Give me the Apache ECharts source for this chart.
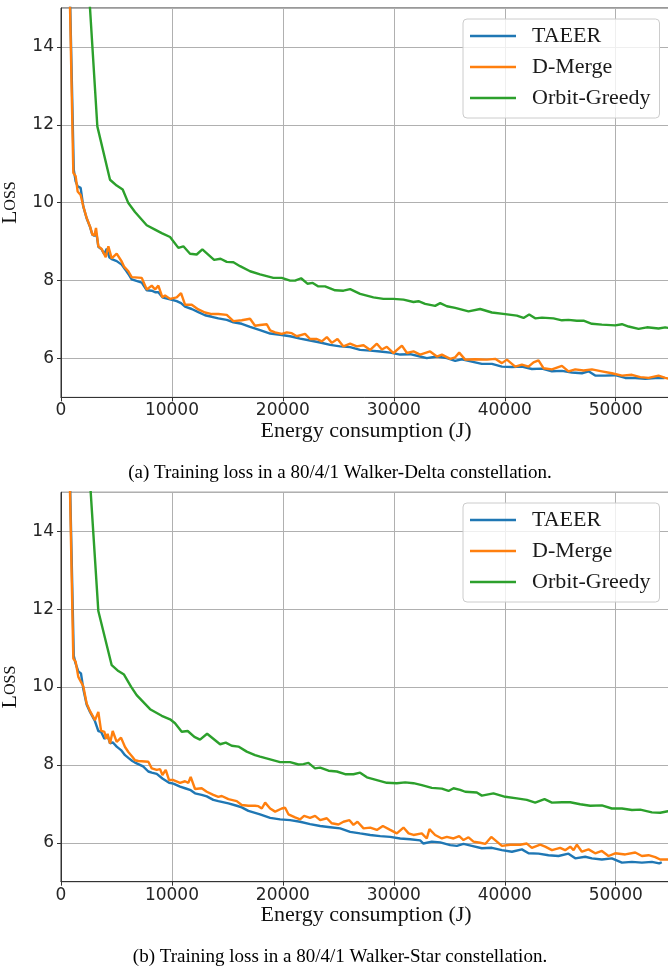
<!DOCTYPE html>
<html>
<head>
<meta charset="utf-8">
<script src="https://cdn.jsdelivr.net/npm/echarts@6/dist/echarts.min.js"></script>
<style>
html,body{margin:0;padding:0;background:#fff;}
#chart{width:668px;height:966px;}
</style>
</head>
<body>
<div id="chart"></div>
<script>
// ---------- data ----------
const seriesNames = ['TAEER', 'D-Merge', 'Orbit-Greedy'];
const xTickValues = [0, 10000, 20000, 30000, 40000, 50000];
const yTickValues = [6, 8, 10, 12, 14];
const xAxisTitle = 'Energy consumption (J)';
const yAxisTitle = 'Loss';
const captions = [
  '(a) Training loss in a 80/4/1 Walker-Delta constellation.',
  '(b) Training loss in a 80/4/1 Walker-Star constellation.'
];

// (a) Walker-Delta
const deltaTAEER = [[620,17.8],[1150,10.85],[1320,10.55],[1500,10.42],[1770,10.38],[2010,9.9],[2310,9.6],[2615,9.38],[2825,9.18],[3010,9.15],[3200,9.2],[3365,8.87],[3665,8.8],[3900,8.68],[4120,8.82],[4350,8.6],[4570,8.55],[5020,8.5],[5470,8.41],[5800,8.28],[6070,8.17],[6370,8.03],[6800,7.99],[7280,7.95],[7730,7.75],[8180,7.74],[8480,7.70],[8775,7.70],[9140,7.57],[9380,7.55],[9830,7.52],[10430,7.47],[10820,7.42],[11180,7.33],[11785,7.27],[12380,7.19],[12980,7.11],[13590,7.07],[14180,7.03],[14940,6.99],[15540,6.93],[16290,6.89],[17040,6.81],[17940,6.73],[18850,6.64],[19750,6.61],[20650,6.57],[21550,6.51],[22450,6.46],[23360,6.41],[24260,6.35],[25160,6.31],[26060,6.29],[26960,6.22],[27870,6.20],[28770,6.18],[29670,6.15],[30570,6.10],[31470,6.11],[32370,6.05],[32970,6.01],[33880,6.05],[34780,6.01],[35530,5.94],[36130,5.98],[37030,5.92],[37930,5.86],[38840,5.86],[39740,5.79],[40640,5.78],[41540,5.79],[42440,5.73],[43350,5.74],[44250,5.67],[45150,5.68],[46050,5.64],[46950,5.62],[47550,5.67],[48150,5.56],[49050,5.56],[49950,5.57],[50860,5.50],[51760,5.50],[52660,5.48],[53560,5.50],[54400,5.50]];
const deltaDMerge = [[620,17.8],[1110,10.77],[1320,10.68],[1500,10.29],[1770,10.2],[2010,9.91],[2310,9.61],[2615,9.39],[2825,9.18],[3010,9.16],[3155,9.35],[3365,8.88],[3665,8.81],[4030,8.60],[4270,8.88],[4570,8.57],[5020,8.69],[5470,8.49],[5680,8.36],[6070,8.24],[6370,8.09],[7280,8.07],[7730,7.77],[8180,7.87],[8480,7.77],[8775,7.87],[9140,7.57],[9380,7.62],[9830,7.53],[10430,7.57],[10820,7.68],[11180,7.38],[11785,7.38],[12380,7.26],[12980,7.18],[13590,7.14],[14180,7.14],[14940,7.12],[15540,6.96],[16290,6.98],[17040,7.02],[17490,6.84],[17940,6.86],[18550,6.88],[18850,6.72],[19300,6.67],[19900,6.63],[20350,6.67],[20800,6.65],[21250,6.57],[22000,6.63],[22450,6.50],[23060,6.50],[23510,6.44],[23960,6.55],[24410,6.40],[24920,6.50],[25460,6.31],[26060,6.38],[26660,6.31],[27270,6.34],[27870,6.22],[28470,6.38],[28920,6.23],[29370,6.30],[29970,6.14],[30730,6.33],[31180,6.14],[31770,6.18],[32370,6.10],[33270,6.18],[33880,6.05],[34330,6.10],[35080,5.99],[35530,6.03],[35890,6.15],[36430,5.97],[37330,5.98],[38390,5.97],[39130,5.99],[39740,5.88],[40190,5.97],[40940,5.79],[41540,5.84],[42140,5.79],[42590,5.90],[43040,5.95],[43490,5.75],[44250,5.72],[45150,5.81],[45740,5.67],[46350,5.72],[47100,5.69],[47850,5.72],[48750,5.67],[49650,5.62],[50560,5.56],[51460,5.58],[52210,5.52],[52960,5.50],[53860,5.56],[54460,5.50],[55000,5.47]];
const deltaOrbitGreedy = [[2200,16.9],[3275,11.96],[4418,10.59],[5020,10.44],[5560,10.34],[6070,9.99],[6670,9.76],[7725,9.42],[8475,9.31],[9075,9.22],[9830,9.12],[10580,8.84],[11030,8.88],[11630,8.69],[12230,8.67],[12740,8.80],[13800,8.53],[14380,8.56],[14940,8.48],[15540,8.47],[16140,8.37],[17040,8.24],[17940,8.16],[19140,8.07],[19900,8.07],[20650,8.0],[21100,8.0],[21640,8.06],[22210,7.92],[22690,7.94],[23200,7.85],[23800,7.85],[24710,7.75],[25460,7.74],[26060,7.78],[26960,7.66],[28160,7.57],[29060,7.53],[29960,7.53],[30870,7.51],[31770,7.45],[32220,7.47],[32820,7.40],[33720,7.35],[34180,7.42],[34780,7.34],[35530,7.30],[36730,7.21],[37780,7.27],[38840,7.18],[40040,7.14],[41090,7.10],[41690,7.04],[42200,7.13],[42740,7.03],[43350,7.05],[44390,7.03],[45150,6.98],[45740,6.99],[46500,6.97],[47100,6.97],[47850,6.89],[48750,6.87],[49950,6.85],[50560,6.88],[51160,6.82],[52060,6.76],[52810,6.80],[53860,6.77],[54460,6.80],[55000,6.77]];

// (b) Walker-Star
const starTAEER = [[620,17.8],[1150,10.8],[1320,10.6],[1560,10.4],[1800,10.35],[2010,9.95],[2310,9.55],[2615,9.36],[3065,9.12],[3365,8.87],[3610,8.85],[3910,8.67],[4200,8.75],[4420,8.55],[4660,8.58],[5020,8.47],[5410,8.38],[5770,8.25],[6070,8.18],[6430,8.10],[6670,8.06],[6970,8.02],[7400,7.96],[7870,7.83],[8180,7.80],[8630,7.77],[9140,7.65],[9740,7.54],[10130,7.52],[10730,7.44],[11180,7.40],[11690,7.35],[12080,7.27],[12680,7.23],[13140,7.19],[13730,7.10],[14180,7.07],[15090,7.01],[15840,6.95],[16290,6.91],[16890,6.82],[17940,6.73],[18850,6.64],[19750,6.60],[20650,6.58],[21550,6.54],[22450,6.48],[23360,6.43],[24260,6.40],[25160,6.37],[26060,6.28],[26960,6.24],[27870,6.20],[28770,6.17],[29670,6.15],[30570,6.11],[31470,6.09],[32370,6.06],[32670,5.98],[33420,6.03],[34180,6.01],[35080,5.94],[35680,5.92],[36280,5.97],[37030,5.92],[37930,5.86],[38840,5.87],[39740,5.81],[40640,5.77],[41540,5.83],[42140,5.73],[43040,5.72],[43940,5.68],[44840,5.66],[45740,5.72],[46350,5.60],[47250,5.64],[47850,5.60],[48750,5.57],[49650,5.60],[50560,5.49],[51460,5.51],[52360,5.49],[53260,5.51],[53920,5.47],[54150,5.50]];
const starDMerge = [[620,17.8],[1110,10.73],[1320,10.65],[1560,10.26],[1800,10.13],[2010,10.02],[2310,9.58],[2615,9.38],[3065,9.15],[3365,9.36],[3610,8.88],[3910,8.85],[4060,8.67],[4200,8.80],[4420,8.55],[4660,8.87],[5020,8.59],[5410,8.70],[5770,8.46],[6070,8.33],[6430,8.21],[6670,8.12],[6970,8.10],[7870,8.08],[8180,7.91],[8630,7.87],[8930,7.89],[9140,7.74],[9440,7.87],[9740,7.61],[10130,7.61],[10730,7.54],[11180,7.58],[11480,7.54],[11690,7.69],[12080,7.38],[12680,7.40],[13140,7.31],[13730,7.23],[14180,7.18],[14490,7.20],[15090,7.12],[15840,7.07],[16290,6.97],[16890,6.95],[17490,6.95],[17790,6.94],[18100,6.88],[18400,7.03],[18850,6.88],[19300,6.80],[19900,6.88],[20200,6.90],[20500,6.73],[21100,6.65],[21550,6.60],[21910,6.69],[22450,6.64],[22900,6.69],[23360,6.58],[23960,6.63],[24410,6.50],[25010,6.47],[25460,6.54],[26000,6.58],[26360,6.46],[26720,6.54],[27270,6.37],[27870,6.39],[28470,6.33],[29010,6.43],[29670,6.33],[30270,6.24],[30870,6.39],[31330,6.24],[31770,6.20],[32520,6.24],[32970,6.11],[33210,6.35],[33720,6.20],[34330,6.11],[34780,6.15],[35380,6.11],[35890,6.17],[36280,6.07],[36730,6.14],[37180,6.03],[37780,6.00],[38240,5.97],[38780,6.15],[39290,6.03],[39740,5.92],[40490,5.95],[41390,5.95],[41990,5.98],[42440,5.87],[43190,5.95],[43640,5.90],[44250,5.81],[44990,5.87],[45440,5.81],[45900,5.90],[46200,5.81],[46500,5.95],[46950,5.77],[47550,5.83],[48150,5.73],[48750,5.79],[49350,5.66],[49950,5.73],[50860,5.70],[51760,5.75],[52360,5.66],[52960,5.68],[53560,5.63],[54010,5.57],[54700,5.57],[55000,5.56]];
const starOrbitGreedy = [[2250,16.9],[3365,11.95],[4570,10.56],[5170,10.41],[5680,10.32],[6310,10.01],[6820,9.79],[8030,9.43],[9080,9.26],[9830,9.17],[10280,9.07],[10880,8.85],[11420,8.87],[12020,8.72],[12530,8.65],[13170,8.80],[14340,8.53],[14850,8.57],[15390,8.49],[15990,8.47],[16740,8.34],[17490,8.25],[17940,8.21],[18850,8.14],[19750,8.07],[20650,8.07],[21400,8.01],[21850,8.02],[22300,8.05],[22900,7.91],[23360,7.93],[24110,7.85],[24860,7.83],[25610,7.76],[26360,7.76],[26960,7.80],[27570,7.68],[28470,7.61],[29370,7.54],[30270,7.53],[31020,7.55],[31770,7.53],[32520,7.48],[33420,7.41],[34330,7.39],[34930,7.33],[35380,7.40],[35980,7.36],[36430,7.31],[37480,7.29],[37930,7.21],[38980,7.27],[40040,7.18],[41090,7.14],[41990,7.10],[42740,7.03],[43580,7.12],[44250,7.03],[45150,7.04],[45900,7.04],[46800,6.99],[47700,6.95],[48750,6.96],[49650,6.88],[50560,6.88],[51460,6.84],[52210,6.85],[53260,6.78],[54010,6.77],[54700,6.81],[55000,6.80]];

// ---------- styling ----------
const colors = ['#1f77b4', '#ff7f0e', '#2ca02c'];
const serif = 'Liberation Serif';
const sans = 'DejaVu Sans';
const panels = [
  { top: 8, data: [deltaTAEER, deltaDMerge, deltaOrbitGreedy], legendTop: 19, captionY: 473 },
  { top: 492.3, data: [starTAEER, starDMerge, starOrbitGreedy], legendTop: 503, captionY: 957 }
];
const gridLeft = 61, gridWidth = 610.2, gridHeight = 389.4;

const option = {
  backgroundColor: '#ffffff',
  animation: false,
  color: colors,
  grid: panels.map(p => ({
    left: gridLeft, top: p.top, width: gridWidth, height: gridHeight,
    outerBoundsMode: 'none', containLabel: false,
    show: true, borderColor: '#333', borderWidth: 1, backgroundColor: 'transparent'
  })),
  xAxis: panels.map((p, i) => ({
    type: 'value', gridIndex: i, min: 0, max: 55000, interval: 10000,
    name: xAxisTitle, nameLocation: 'middle', nameGap: 22,
    nameTextStyle: { fontFamily: serif, fontSize: 22, color: '#111' },
    axisLine: { show: true, lineStyle: { color: '#333', width: 1 } },
    axisTick: { show: true, inside: false, length: 4, lineStyle: { color: '#333' } },
    axisLabel: { fontFamily: sans, fontSize: 17, color: '#262626', margin: 5, showMaxLabel: false,
      formatter: v => (xTickValues.indexOf(v) >= 0 ? String(v) : '') },
    splitLine: { show: true, lineStyle: { color: '#b0b0b0', width: 1 } }
  })),
  yAxis: panels.map((p, i) => ({
    type: 'value', gridIndex: i, min: 5, max: 15, splitNumber: 5,
    name: '{a|L}{b|OSS}', nameLocation: 'middle', nameGap: 31,
    nameTextStyle: { fontFamily: serif, color: '#111',
      rich: { a: { fontFamily: serif, fontSize: 22, color: '#111' }, b: { fontFamily: serif, fontSize: 16, color: '#111' } } },
    axisLine: { show: true, lineStyle: { color: '#333', width: 1 } },
    axisTick: { show: true, inside: false, length: 4, lineStyle: { color: '#333' } },
    axisLabel: { fontFamily: sans, fontSize: 17, color: '#262626', margin: 7, showMinLabel: false, showMaxLabel: false,
      formatter: v => (yTickValues.indexOf(v) >= 0 ? String(v) : '') },
    splitLine: { show: true, lineStyle: { color: '#b0b0b0', width: 1 } }
  })),
  legend: panels.map(p => ({
    data: seriesNames.map((n, k) => ({ name: n, icon: 'rect', itemStyle: { color: colors[k] } })),
    orient: 'vertical', left: 463, top: p.legendTop,
    itemWidth: 46, itemHeight: 2.5, itemGap: 9,
    padding: [6, 9, 9, 7],
    backgroundColor: 'rgba(255,255,255,0.8)', borderColor: '#cccccc', borderWidth: 1, borderRadius: 4,
    textStyle: { fontFamily: serif, fontSize: 22, lineHeight: 22, color: '#1a1a1a', padding: [0, 0, 0, 11] },
    selectedMode: false
  })),
  graphic: panels.map((p, i) => ({
    type: 'text', x: 340, y: p.captionY,
    style: { text: captions[i], font: '19px "Liberation Serif"', fill: '#000',
      textAlign: 'center', textVerticalAlign: 'middle', align: 'center', verticalAlign: 'middle' }
  })),
  series: []
};
panels.forEach((p, i) => {
  p.data.forEach((d, k) => {
    option.series.push({
      type: 'line', name: seriesNames[k], xAxisIndex: i, yAxisIndex: i,
      data: d, symbol: 'none', showSymbol: false, clip: true,
      lineStyle: { color: colors[k], width: 2.4 }, itemStyle: { color: colors[k] },
      z: 2 + k
    });
  });
});

const chart = echarts.init(document.getElementById('chart'), null, { renderer: 'canvas' });
chart.setOption(option);
</script>
</body>
</html>
